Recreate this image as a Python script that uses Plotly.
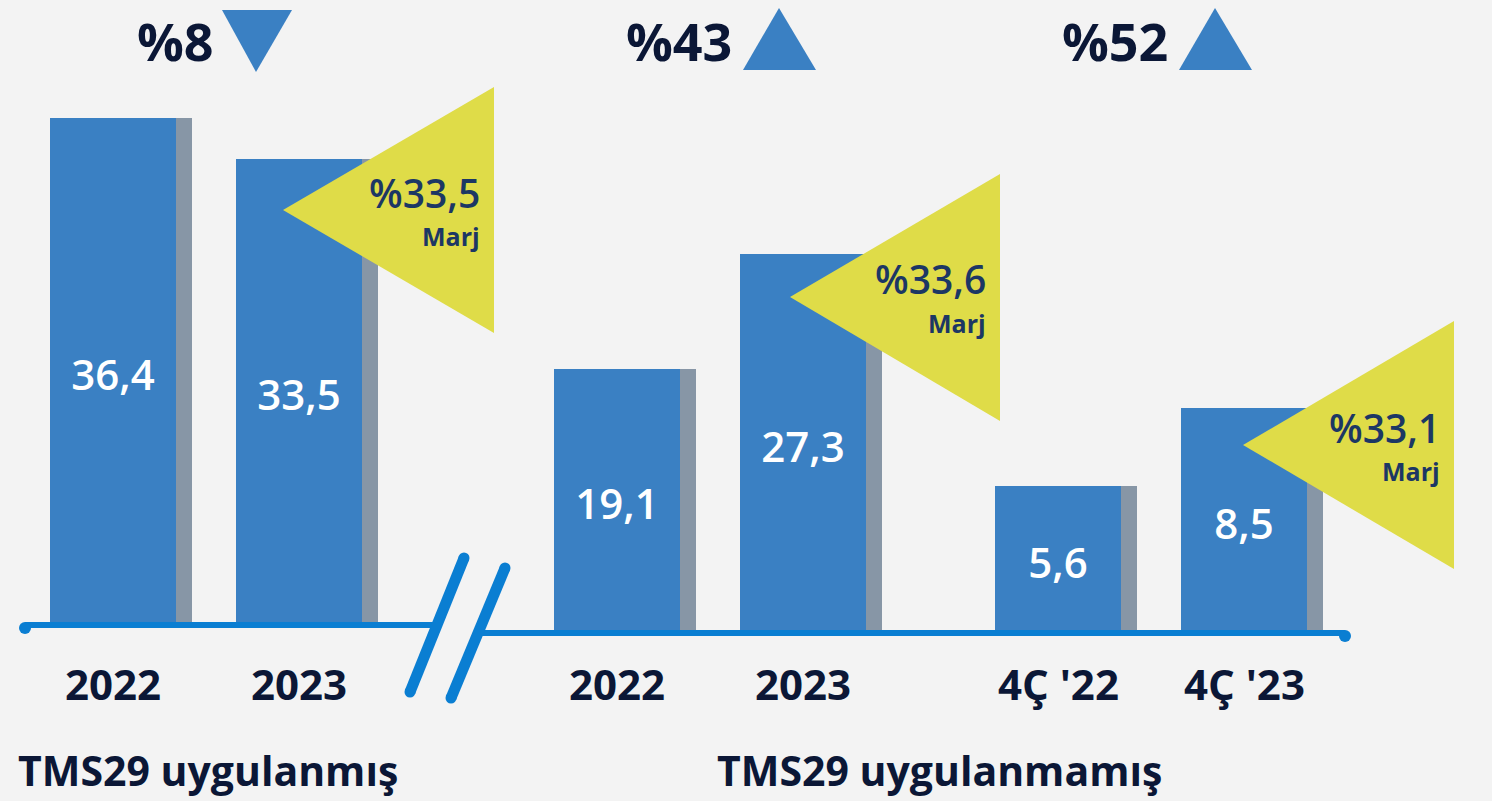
import plotly.graph_objects as go

# ---- data ----
annual_labels = ["2022", "2023"]
tms_applied = [36.4, 33.5]
tms_not_applied = [19.1, 27.3]
quarter_labels = ["4Ç '22", "4Ç '23"]
quarter_values = [5.6, 8.5]
change_labels = ["%8", "%43", "%52"]
change_dirs = ["down", "up", "up"]
margin_labels = ["%33,5", "%33,6", "%33,1"]
group_titles = ["TMS29 uygulanmış", "TMS29 uygulanmamış"]

W, H = 1492, 801
BLUE = "#3a80c3"
SHADOW = "#8796a6"
LINE = "#0a7ed2"
YELLOW = "#dfdc48"
DARK = "#0b1736"
NAVY = "#1c3764"
BG = "#f3f3f3"
FONT = "Open Sans"


def px(x):
    return x / W


def py(y):
    return 1 - y / H


def fmt(v):
    return f"{v:.1f}".replace(".", ",")


bw = 126 / 186
sw = 142 / 186

fig = go.Figure()
groups = [
    (annual_labels, tms_applied, "x", "y"),
    (annual_labels, tms_not_applied, "x2", "y2"),
    (quarter_labels, quarter_values, "x3", "y3"),
]
for cats, vals, xa, ya in groups:
    fig.add_trace(go.Bar(x=cats, y=vals, xaxis=xa, yaxis=ya, width=[sw] * 2,
                         offset=[-bw / 2] * 2, marker=dict(color=SHADOW, line_width=0),
                         hoverinfo="skip", showlegend=False))
    fig.add_trace(go.Bar(x=cats, y=vals, xaxis=xa, yaxis=ya, width=[bw] * 2,
                         offset=[-bw / 2] * 2, marker=dict(color=BLUE, line_width=0),
                         text=[fmt(v) for v in vals], textposition="inside",
                         insidetextanchor="middle", textangle=0,
                         constraintext="none",
                         textfont=dict(family=FONT, size=42, color="white", weight=600),
                         hoverinfo="skip", showlegend=False))

ax = dict(visible=False, type="category", range=[-0.5, 1.5], fixedrange=True)
fig.update_layout(
    width=W, height=H,
    margin=dict(l=0, r=0, t=0, b=0),
    paper_bgcolor=BG, plot_bgcolor="rgba(0,0,0,0)",
    barmode="overlay", bargap=0,
    xaxis=dict(ax, domain=[px(20), px(392)], anchor="y"),
    yaxis=dict(visible=False, domain=[1 - 628 / H, 1], range=[0, 628 / 14], anchor="x"),
    xaxis2=dict(ax, domain=[px(524), px(896)], anchor="y2"),
    yaxis2=dict(visible=False, domain=[1 - 636 / H, 1], range=[0, 636 / 14], anchor="x2"),
    xaxis3=dict(ax, domain=[px(965), px(1337)], anchor="y3"),
    yaxis3=dict(visible=False, domain=[1 - 636 / H, 1], range=[0, 636 / 26.8], anchor="x3"),
)

shapes = []
# baselines
shapes.append(dict(type="line", xref="paper", yref="y", x0=px(25), x1=px(436), y0=0, y1=0,
                   line=dict(color=LINE, width=12)))
shapes.append(dict(type="line", xref="paper", yref="y2", x0=px(478), x1=px(1345), y0=0, y1=0,
                   line=dict(color=LINE, width=12)))
# rounded ends of the baselines
for cx, cy in [(25, 628), (1345, 636)]:
    shapes.append(dict(type="circle", xref="paper", yref="paper",
                       x0=px(cx - 6), x1=px(cx + 6), y0=py(cy + 6), y1=py(cy - 6),
                       fillcolor=LINE, line=dict(width=0)))
# axis break marks
for (x0, y0, x1, y1) in [(410, 692, 464, 558), (451, 698, 505, 568)]:
    shapes.append(dict(type="line", xref="paper", yref="paper", x0=px(x0), y0=py(y0),
                       x1=px(x1), y1=py(y1), line=dict(color=LINE, width=11)))
    for cx, cy in [(x0, y0), (x1, y1)]:
        shapes.append(dict(type="circle", xref="paper", yref="paper",
                           x0=px(cx - 5.5), x1=px(cx + 5.5), y0=py(cy + 5.5), y1=py(cy - 5.5),
                           fillcolor=LINE, line=dict(width=0)))


def tri(pts, color):
    d = "M " + " L ".join(f"{px(a)},{py(b)}" for a, b in pts) + " Z"
    return dict(type="path", xref="paper", yref="paper", path=d,
                fillcolor=color, line=dict(width=0), layer="above")


# change indicators
shapes.append(tri([(222, 10), (292, 10), (256, 72)], BLUE))
shapes.append(tri([(743, 70), (816, 70), (779, 8)], BLUE))
shapes.append(tri([(1179, 70), (1252, 70), (1215, 8)], BLUE))
# margin callouts
callouts = [(283, 210, 494, 87, 333), (790, 297, 1000, 174, 421), (1243, 445, 1454, 321, 569)]
for ax_, ay_, rx, ty, by in callouts:
    shapes.append(tri([(ax_, ay_), (rx, ty), (rx, by)], YELLOW))
fig.update_layout(shapes=shapes)

ann = []
# category labels (positioned by category index on each group's axis)
for cats, _, xa, _ in groups:
    for i, c in enumerate(cats):
        ann.append(dict(x=i, xref=xa, y=py(683), yref="paper", text=c, showarrow=False,
                        xanchor="center", yanchor="middle",
                        font=dict(family=FONT, size=42, color=DARK, weight=700)))
# change labels
for lab, cx in zip(change_labels, [175, 679, 1115]):
    ann.append(dict(x=px(cx), y=py(40), xref="paper", yref="paper", text=lab, showarrow=False,
                    xanchor="center", yanchor="middle",
                    font=dict(family=FONT, size=52, color=DARK, weight=700)))
# margin labels
for lab, (ax_, ay_, rx, ty, by) in zip(margin_labels, callouts):
    ann.append(dict(x=px(rx - 12), y=py(ay_ - 18), xref="paper", yref="paper", text=lab,
                    showarrow=False, xanchor="right", yanchor="middle",
                    font=dict(family=FONT, size=39, color=NAVY, weight=600)))
    ann.append(dict(x=px(rx - 12), y=py(ay_ + 26), xref="paper", yref="paper", text="Marj",
                    showarrow=False, xanchor="right", yanchor="middle",
                    font=dict(family=FONT, size=25, color=NAVY, weight=700)))
# group titles
ann.append(dict(x=px(16), y=py(770), xref="paper", yref="paper", text=group_titles[0],
                showarrow=False, xanchor="left", yanchor="middle",
                font=dict(family=FONT, size=41, color=DARK, weight=700)))
ann.append(dict(x=px(939), y=py(770), xref="paper", yref="paper", text=group_titles[1],
                showarrow=False, xanchor="center", yanchor="middle",
                font=dict(family=FONT, size=41, color=DARK, weight=700)))
fig.update_layout(annotations=ann)

fig.write_html(
    "out.html",
    config={"displayModeBar": False},
    post_script="document.body.style.margin='0';document.body.style.padding='0';"
                "document.body.style.background='" + BG + "';"
                "document.body.style.overflow='hidden';",
)
